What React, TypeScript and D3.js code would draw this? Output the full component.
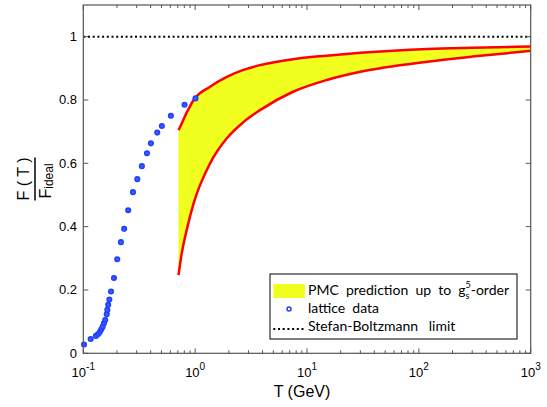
import React from "react";
import * as d3 from "d3";

const latticeT = [0.1015, 0.1164, 0.1298, 0.136, 0.141, 0.145, 0.149, 0.153, 0.157, 0.162, 0.164, 0.167, 0.171, 0.177, 0.188, 0.201, 0.217, 0.232, 0.252, 0.278, 0.304, 0.334, 0.371, 0.402, 0.458, 0.504, 0.607, 0.804, 1.007];
const latticeF = [0.028, 0.045, 0.055, 0.061, 0.068, 0.076, 0.084, 0.095, 0.105, 0.123, 0.137, 0.153, 0.170, 0.195, 0.238, 0.297, 0.351, 0.393, 0.452, 0.509, 0.550, 0.591, 0.632, 0.663, 0.697, 0.718, 0.750, 0.785, 0.805];

const bandT = [0.71, 0.75, 0.84, 0.97, 1.36, 1.92, 2.7, 3.8, 7.5, 15, 30, 120, 300, 1000];
const upperF = [0.705, 0.722, 0.760, 0.800, 0.842, 0.873, 0.895, 0.910, 0.929, 0.940, 0.949, 0.961, 0.965, 0.969];
const lowerF = [0.247, 0.305, 0.389, 0.474, 0.600, 0.679, 0.730, 0.768, 0.826, 0.863, 0.889, 0.921, 0.937, 0.955];

const xTickExps = [-1, 0, 1, 2, 3];
const yTicks = [0, 0.2, 0.4, 0.6, 0.8, 1];
const sbLimit = 1;

const W = 547, H = 407;
const L = 83.3, R = 530.7, T0 = 5, B = 353.3;

export default function App() {
  const x = d3.scaleLog().domain([0.1, 1000]).range([L, R]);
  const y = d3.scaleLinear().domain([0, 1.1]).range([B, T0]);

  const bandData = bandT.map((t, i) => ({ t, u: upperF[i], l: lowerF[i] }));
  const area = d3.area<any>().x(d => x(d.t)).y0(d => y(d.l)).y1(d => y(d.u)).curve(d3.curveMonotoneX);
  const lineU = d3.line<any>().x(d => x(d.t)).y(d => y(d.u)).curve(d3.curveMonotoneX);
  const lineL = d3.line<any>().x(d => x(d.t)).y(d => y(d.l)).curve(d3.curveMonotoneX);

  const minor: number[] = [];
  for (let e = -1; e < 3; e++) for (let k = 2; k <= 9; k++) minor.push(k * Math.pow(10, e));

  const axisColor = "#555";
  const tickFont = "'Liberation Sans', Arial, sans-serif";
  const legFont = "Lato, 'Open Sans', sans-serif";

  return (
    <svg width={W} height={H} style={{ position: "absolute", left: 0, top: 0, background: "#fff" }}>
      <rect x={0} y={0} width={W} height={H} fill="#fff" />
      {/* band */}
      <path d={area(bandData) as string} fill="#f0ff1e" stroke="none" />
      <path d={lineU(bandData) as string} fill="none" stroke="#ff0000" strokeWidth={2.5} />
      <path d={lineL(bandData) as string} fill="none" stroke="#ff0000" strokeWidth={2.5} />
      {/* SB limit */}
      <line x1={L} x2={R} y1={y(sbLimit)} y2={y(sbLimit)} stroke="#000" strokeWidth={2} strokeDasharray="2,2.7" />
      {/* lattice */}
      {latticeT.map((t, i) => (
        <circle key={i} cx={x(t)} cy={y(latticeF[i])} r={2.3} fill="#3a5cff" stroke="#1f3fff" strokeWidth={1.5} />
      ))}
      {/* frame */}
      <rect x={L} y={T0} width={R - L} height={B - T0} fill="none" stroke={axisColor} strokeWidth={1.2} />
      {/* x ticks */}
      {xTickExps.map(e => {
        const xx = x(Math.pow(10, e));
        return (
          <g key={"xt" + e}>
            <line x1={xx} x2={xx} y1={B} y2={B - 5} stroke={axisColor} />
            <line x1={xx} x2={xx} y1={T0} y2={T0 + 5} stroke={axisColor} />
            <text x={xx} y={377} textAnchor="middle" fontFamily={tickFont} fontSize={13} fill="#000">
              10<tspan dy={-7} fontSize={10}>{e}</tspan>
            </text>
          </g>
        );
      })}
      {minor.map((m, i) => {
        const xx = x(m);
        return (
          <g key={"mt" + i}>
            <line x1={xx} x2={xx} y1={B} y2={B - 3} stroke={axisColor} />
            <line x1={xx} x2={xx} y1={T0} y2={T0 + 3} stroke={axisColor} />
          </g>
        );
      })}
      {/* y ticks */}
      {yTicks.map(v => {
        const yy = y(v);
        return (
          <g key={"yt" + v}>
            <line x1={L} x2={L + 5} y1={yy} y2={yy} stroke={axisColor} />
            <line x1={R} x2={R - 5} y1={yy} y2={yy} stroke={axisColor} />
            <text x={77} y={yy + 4.5} textAnchor="end" fontFamily={tickFont} fontSize={13} fill="#000">
              {String(v)}
            </text>
          </g>
        );
      })}
      {/* x label */}
      <text x={302} y={397} textAnchor="middle" fontFamily={tickFont} fontSize={16} fill="#000">T (GeV)</text>
      {/* y label */}
      <g transform="translate(0,179) rotate(-90)">
        <text x={0} y={29} textAnchor="middle" fontFamily={tickFont} fontSize={16} fill="#000" style={{ whiteSpace: "pre" }}>F ( T )</text>
        <line x1={-21.5} x2={21.5} y1={35} y2={35} stroke="#000" strokeWidth={1.5} />
        <text x={-2} y={51} textAnchor="middle" fontFamily={tickFont} fontSize={16} fill="#000">
          F<tspan fontSize={12} dy={2}>ideal</tspan>
        </text>
      </g>
      {/* legend */}
      <rect x={270} y={274} width={247} height={65} fill="#fff" stroke="#000" strokeWidth={1} />
      <rect x={273.3} y={284} width={31.7} height={14} fill="#f0ff1e" />
      <text x={308} y={295} fontFamily={legFont} fontSize={14} fill="#000" style={{ whiteSpace: "pre" }}>
        {"PMC  prediction  up  to  g"}
        <tspan fontSize={9} dy={4}>s</tspan>
        <tspan fontSize={9} dx={-4} dy={-11}>5</tspan>
        <tspan fontSize={14} dy={7}>-order</tspan>
      </text>
      <circle cx={289} cy={309} r={2} fill="#fff" stroke="#1f3fff" strokeWidth={1.5} />
      <text x={308} y={313} fontFamily={legFont} fontSize={14} fill="#000" style={{ whiteSpace: "pre" }}>lattice  data</text>
      <line x1={273.3} x2={305} y1={329} y2={329} stroke="#000" strokeWidth={2} strokeDasharray="2,2.7" />
      <text x={308} y={331} fontFamily={legFont} fontSize={14} fill="#000" style={{ whiteSpace: "pre" }}>Stefan-Boltzmann   limit</text>
    </svg>
  );
}
